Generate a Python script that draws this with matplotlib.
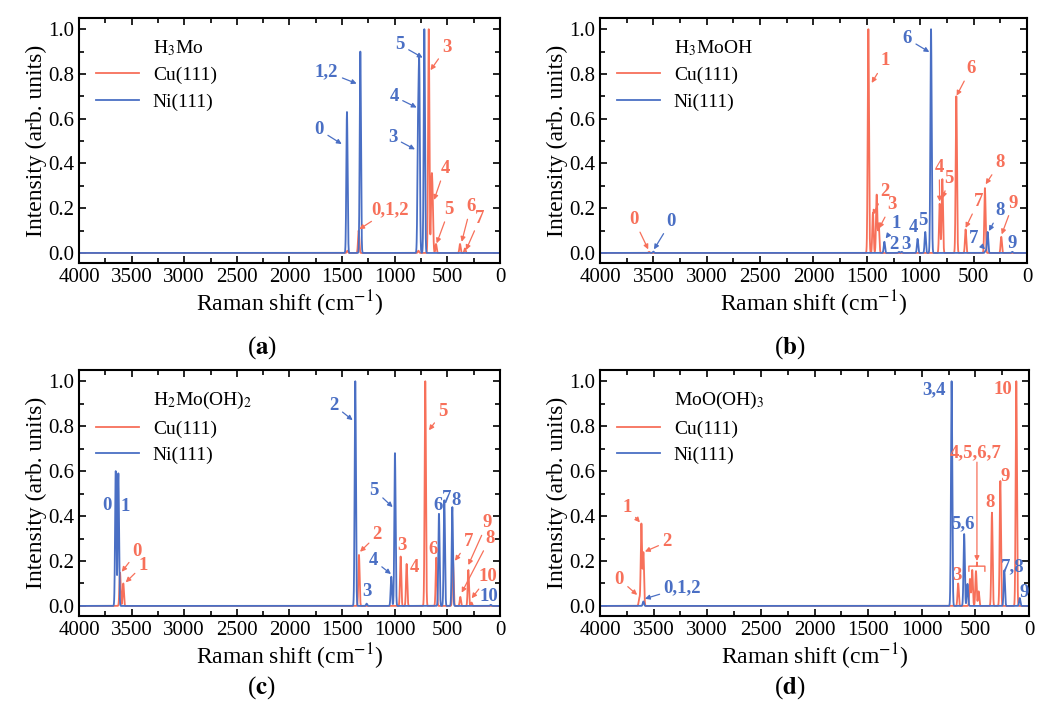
import numpy as np
from matplotlib import pyplot as plt
from matplotlib.lines import Line2D
from matplotlib.ticker import MultipleLocator

plt.rcParams['font.family'] = ['Liberation Serif', 'DejaVu Serif']
plt.rcParams['mathtext.fontset'] = 'stix'

RED = '#F7705A'
BLUE = '#4A6FC4'

# peak positions (cm-1) and relative intensities
a_cu_pos = [1450, 1343, 775, 677, 650, 640, 608, 380, 333]
a_cu_int = [0.01, 0.10, 0.01, 1.0, 0.29, 0.20, 0.04, 0.04, 0.02]
a_ni_pos = [1454, 1327, 779, 767, 719]
a_ni_int = [0.63, 0.90, 0.51, 0.79, 1.0]

b_cu_pos = [3540, 1486, 1443, 1408, 1389, 818, 793, 662, 575, 394, 241]
b_cu_int = [0.005, 1.0, 0.18, 0.26, 0.13, 0.22, 0.33, 0.70, 0.105, 0.29, 0.072]
b_ni_pos = [3500, 1336, 1199, 1173, 1025, 953, 899, 388, 369, 138]
b_ni_int = [0.006, 0.05, 0.005, 0.005, 0.063, 0.094, 1.0, 0.01, 0.094, 0.005]

c_cu_pos = [3610, 3579, 1340, 944, 887, 710, 605, 447, 377, 301, 270]
c_cu_int = [0.148, 0.10, 0.227, 0.22, 0.187, 1.0, 0.215, 0.207, 0.04, 0.16, 0.015]
c_ni_pos = [3651, 3626, 1375, 1267, 1033, 998, 580, 529, 453, 88]
c_ni_int = [0.60, 0.59, 1.0, 0.01, 0.13, 0.68, 0.41, 0.47, 0.44, 0.005]

d_cu_pos = [3633, 3614, 3595, 661, 551, 530, 495, 470, 346, 268, 119]
d_cu_int = [0.035, 0.365, 0.237, 0.10, 0.12, 0.16, 0.155, 0.065, 0.415, 0.556, 1.0]
d_ni_pos = [3595, 722, 605, 574, 231, 87]
d_ni_int = [0.02, 1.0, 0.32, 0.098, 0.158, 0.035]

titles = ['H$_3$Mo', 'H$_3$MoOH', 'H$_2$Mo(OH)$_2$', 'MoO(OH)$_3$']
panel_tags = ['a', 'b', 'c', 'd']

shift = np.arange(4000, -1, -1.0)


def spectrum(pos, inten, sigma=6.0):
    y = np.zeros_like(shift)
    for p, h in zip(pos, inten):
        y += h * np.exp(-0.5 * ((shift - p) / sigma) ** 2)
    return y


# (text, target_x, target_y, text_x, text_y, colour); target None -> plain text
notes_a = [
    ('0', 1504, 0.487, 1717, 0.55, BLUE), ('1,2', 1362, 0.757, 1647, 0.81, BLUE),
    ('3', 808, 0.463, 1020, 0.516, BLUE), ('4', 792, 0.65, 1007, 0.70, BLUE),
    ('5', 735, 0.873, 950, 0.93, BLUE), ('3', 660, 0.817, 506, 0.92, RED),
    ('4', 627, 0.237, 523, 0.378, RED), ('0,1,2', 1337, 0.106, 1045, 0.195, RED),
    ('5', 602, 0.043, 482, 0.195, RED), ('6', 364, 0.05, 278, 0.207, RED),
    ('7', 323, 0.013, 190, 0.155, RED),
]
notes_b = [
    ('6', 915, 0.898, 1121, 0.957, BLUE), ('1', 1455, 0.76, 1330, 0.858, RED),
    ('2', 1446, 0.17, 1330, 0.275, RED), ('3', 1386, 0.11, 1268, 0.216, RED),
    ('1', 1324, 0.065, 1221, 0.13, BLUE), ('2', None, None, 1246, 0.038, BLUE),
    ('3', None, None, 1134, 0.038, BLUE), ('4', None, None, 1065, 0.112, BLUE),
    ('5', None, None, 971, 0.145, BLUE), ('4', 818, 0.23, 822, 0.383, RED),
    ('5', 790, 0.245, 728, 0.334, RED), ('6', 659, 0.703, 527, 0.824, RED),
    ('7', 575, 0.112, 456, 0.23, RED), ('8', 387, 0.307, 253, 0.405, RED),
    ('9', 237, 0.083, 128, 0.223, RED), ('7', 393, 0.016, 496, 0.065, BLUE),
    ('8', 356, 0.098, 253, 0.189, BLUE), ('9', None, None, 138, 0.043, BLUE),
    ('0', 3548, 0.016, 3681, 0.149, RED), ('0', 3494, 0.016, 3333, 0.142, BLUE),
]
notes_c = [
    ('2', 1400, 0.827, 1577, 0.893, BLUE), ('3', None, None, 1261, 0.064, BLUE),
    ('4', 1036, 0.142, 1204, 0.204, BLUE), ('5', 1020, 0.44, 1194, 0.516, BLUE),
    ('6', None, None, 589, 0.449, BLUE), ('7', None, None, 506, 0.479, BLUE),
    ('8', None, None, 421, 0.468, BLUE), ('10', None, None, 104, 0.041, BLUE),
    ('2', 1330, 0.241, 1166, 0.316, RED), ('3', None, None, 934, 0.271, RED),
    ('4', None, None, 817, 0.172, RED), ('5', 675, 0.782, 544, 0.864, RED),
    ('6', None, None, 640, 0.249, RED), ('7', 428, 0.201, 298, 0.286, RED),
    ('9', 301, 0.182, 121, 0.37, RED), ('8', 364, 0.059, 95, 0.301, RED),
    ('10', 269, 0.034, 111, 0.13, RED),
    ('0', None, None, 3737, 0.449, BLUE), ('1', None, None, 3563, 0.441, BLUE),
    ('0', 3594, 0.152, 3446, 0.241, RED), ('1', 3556, 0.105, 3389, 0.182, RED),
]
notes_d = [
    ('3,4', None, None, 884, 0.962, BLUE), ('5,6', None, None, 620, 0.368, BLUE),
    ('7,8', None, None, 155, 0.174, BLUE), ('9', None, None, 44, 0.058, BLUE),
    ('3', None, None, 670, 0.135, RED), ('4,5,6,7', None, None, 502, 0.684, RED),
    ('8', None, None, 360, 0.462, RED), ('9', None, None, 223, 0.575, RED),
    ('10', None, None, 242, 0.962, RED),
    ('1', 3628, 0.372, 3746, 0.437, RED), ('2', 3581, 0.242, 3374, 0.285, RED),
    ('0', 3653, 0.049, 3820, 0.119, RED), ('0,1,2', 3581, 0.032, 3231, 0.083, BLUE),
]

data = [
    (a_cu_pos, a_cu_int, a_ni_pos, a_ni_int, notes_a),
    (b_cu_pos, b_cu_int, b_ni_pos, b_ni_int, notes_b),
    (c_cu_pos, c_cu_int, c_ni_pos, c_ni_int, notes_c),
    (d_cu_pos, d_cu_int, d_ni_pos, d_ni_int, notes_d),
]

fig = plt.figure(figsize=(10.38, 7.13), dpi=100)
boxes = [
    [0.0761, 0.6311, 0.4056, 0.3436],
    [0.5780, 0.6311, 0.4114, 0.3436],
    [0.0761, 0.1360, 0.4056, 0.3450],
    [0.5780, 0.1360, 0.4134, 0.3450],
]
tag_xy = [(0.252, 0.512), (0.761, 0.512), (0.252, 0.035), (0.761, 0.035)]

for k, (cu_p, cu_i, ni_p, ni_i, notes) in enumerate(data):
    ax = fig.add_axes(boxes[k])
    ax.plot(shift, spectrum(cu_p, cu_i), color=RED, lw=1.3)
    ax.plot(shift, spectrum(ni_p, ni_i), color=BLUE, lw=1.3)
    ax.set_xlim(4000, 0)
    ax.set_ylim(-0.045, 1.05)
    ax.xaxis.set_major_locator(MultipleLocator(500))
    ax.xaxis.set_minor_locator(MultipleLocator(250))
    ax.yaxis.set_major_locator(MultipleLocator(0.2))
    ax.yaxis.set_minor_locator(MultipleLocator(0.1))
    ax.yaxis.set_major_formatter(lambda v, p: f'{v:.1f}')
    ax.tick_params(which='both', direction='in', top=True, right=True,
                   labelsize=15, width=1.2)
    ax.tick_params(which='major', length=5)
    ax.tick_params(which='minor', length=3.5)
    for s in ax.spines.values():
        s.set_linewidth(1.5)
    ax.set_xlabel('Raman shift (cm$^{-1}$)', fontsize=17, labelpad=1)
    ax.set_ylabel('Intensity (arb. units)', fontsize=17, labelpad=1)

    handles = [Line2D([], [], color='none'),
               Line2D([], [], color=RED, lw=1.3),
               Line2D([], [], color=BLUE, lw=1.3)]
    ax.legend(handles, [titles[k], 'Cu(111)', 'Ni(111)'], loc='upper left',
              bbox_to_anchor=(0.0, 0.99), frameon=False, fontsize=14,
              handlelength=2.2, handletextpad=0.7, labelspacing=0.45)

    for txt, tx, ty, lx, ly, col in notes:
        if tx is None:
            ax.text(lx, ly, txt, color=col, fontsize=13.5, fontweight='bold',
                    ha='center', va='center')
        else:
            ax.annotate(txt, xy=(tx, ty), xytext=(lx, ly), color=col,
                        fontsize=13.5, fontweight='bold', ha='center', va='center',
                        arrowprops=dict(arrowstyle='-|>', color=col, lw=0.9,
                                        mutation_scale=7, shrinkA=1, shrinkB=0))

    if k == 3:
        # bracket grouping peaks 4-7 on Cu(111)
        ax.plot([561, 561, 490, 486, 482, 412, 412],
                [0.155, 0.177, 0.177, 0.195, 0.177, 0.177, 0.155],
                color=RED, lw=1.0)
        ax.annotate('', xy=(486, 0.20), xytext=(486, 0.64),
                    arrowprops=dict(arrowstyle='-|>', color=RED, lw=0.9,
                                    mutation_scale=7, shrinkA=0, shrinkB=0))

    fig.text(tag_xy[k][0], tag_xy[k][1], '($\\mathbf{' + panel_tags[k] + '}$)',
             fontsize=18, ha='center', va='center')

fig.savefig('out.png', dpi=100)
